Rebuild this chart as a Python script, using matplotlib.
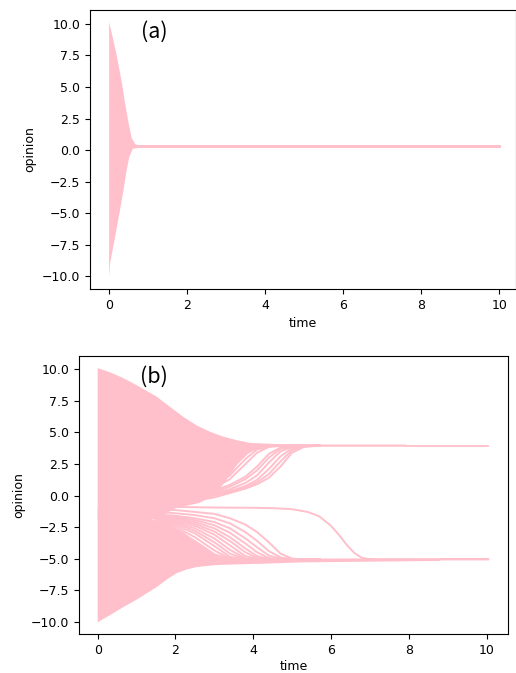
import numpy as np
import matplotlib.pyplot as plt

PINK = 'pink'

# ---- panel (a): consensus ----
a_top_t = [0, 0.07, 0.2, 0.33, 0.41, 0.5, 0.58, 0.67, 0.75]
a_top = [10.15, 9.26, 7.41, 5.29, 3.7, 2.12, 0.93, 0.48, 0.34]
a_bot_t = [0, 0.026, 0.154, 0.28, 0.37, 0.45, 0.52, 0.61, 0.7]
a_bot = [-10.05, -8.99, -6.88, -4.76, -3.17, -1.59, -0.53, 0.1, 0.13]
a_band_t = [0.7, 10.04]
a_band_top = [0.36, 0.36]
a_band_bot = [0.12, 0.12]

# ---- panel (b): two clusters ----
# upper group outline
ub_top_t = [0, 0.33, 0.66, 1.0, 1.52, 1.85, 2.2, 2.55, 2.89, 3.2, 3.57, 3.92, 4.3, 4.6, 5.2, 7.94]
ub_top = [10.1, 9.75, 9.3, 8.75, 7.83, 7.05, 6.24, 5.55, 5.05, 4.7, 4.39, 4.17, 4.12, 4.08, 4.04, 4.04]
ub_bot_t = [0, 1.5, 2.0, 2.6, 3.0, 3.3, 3.6, 3.9, 4.2, 4.5, 5.2, 7.94]
ub_bot = [-1.9, -1.9, -1.0, -0.6, 0.0, 1.2, 2.5, 3.4, 3.8, 3.87, 3.87, 3.87]
# lower group outline
lb_bot_t = [0, 0.33, 0.66, 1.0, 1.52, 1.8, 2.03, 2.3, 2.54, 3.0, 3.4, 3.92, 4.5, 5.2, 8.8]
lb_bot = [-10.05, -9.45, -8.84, -8.25, -7.25, -6.6, -6.15, -5.85, -5.67, -5.52, -5.47, -5.43,
          -5.38, -5.3, -5.18]
lb_top_t = [0, 1.3, 1.8, 2.2, 2.5, 2.8, 3.1, 3.5, 4.0, 8.8]
lb_top = [-1.0, -1.8, -2.3, -2.9, -3.6, -4.3, -4.8, -5.0, -5.0, -4.97]
# cluster tails
up_tail_t = [7.94, 10.04]
up_tail = [3.93, 3.93]
lo_tail_t = [8.8, 10.04]
lo_tail = [-5.06, -5.06]

# strands between the groups
T = [1.5, 2.0, 2.5, 3.0, 3.4, 3.8, 4.1, 4.4, 4.7, 5.0, 5.3, 5.7]
up_strands = [
    [-0.1, 0.1, 0.5, 1.2, 2.3, 3.5, 3.88, 3.94, 3.95, 3.95, 3.95, 3.95],
    [-0.2, 0.0, 0.4, 1.0, 2.0, 3.3, 3.8, 3.93, 3.95, 3.95, 3.95, 3.95],
    [-0.3, -0.1, 0.3, 0.8, 1.6, 2.9, 3.65, 3.9, 3.94, 3.95, 3.95, 3.95],
    [-0.35, -0.15, 0.2, 0.6, 1.3, 2.5, 3.4, 3.85, 3.94, 3.95, 3.95, 3.95],
    [-0.4, -0.25, 0.05, 0.4, 0.85, 1.5, 2.3, 3.3, 3.8, 3.93, 3.95, 3.95],
    [-0.45, -0.3, 0.0, 0.3, 0.7, 1.3, 2.0, 3.0, 3.7, 3.9, 3.95, 3.95],
    [-0.5, -0.35, -0.1, 0.2, 0.5, 1.0, 1.6, 2.6, 3.5, 3.85, 3.94, 3.95],
    [-0.55, -0.45, -0.2, 0.1, 0.35, 0.75, 1.25, 2.1, 3.1, 3.75, 3.92, 3.95],
    [-0.6, -0.5, -0.3, 0.0, 0.25, 0.65, 1.05, 1.7, 2.7, 3.6, 3.9, 3.95],
    [-0.7, -0.6, -0.4, -0.15, 0.2, 0.55, 0.9, 1.4, 2.3, 3.4, 3.85, 3.95],
]
lo_strands = [
    [-1.1, -1.15, -1.3, -1.45, -1.8, -2.3, -2.9, -3.7, -4.6, -5.0, -5.05, -5.05],
    [-1.3, -1.4, -1.55, -1.8, -2.2, -2.9, -3.6, -4.4, -4.9, -5.05, -5.05, -5.05],
    [-1.5, -1.6, -1.8, -2.1, -2.6, -3.4, -4.1, -4.75, -5.0, -5.05, -5.05, -5.05],
    [-1.6, -1.7, -1.95, -2.35, -2.95, -3.8, -4.5, -4.95, -5.05, -5.05, -5.05, -5.05],
    [-1.65, -1.8, -2.1, -2.6, -3.3, -4.2, -4.8, -5.02, -5.05, -5.05, -5.05, -5.05],
    [-1.7, -1.9, -2.25, -2.85, -3.6, -4.5, -4.95, -5.05, -5.05, -5.05, -5.05, -5.05],
    [-1.75, -2.0, -2.4, -3.1, -3.95, -4.8, -5.02, -5.05, -5.05, -5.05, -5.05, -5.05],
    [-1.8, -2.1, -2.6, -3.4, -4.3, -4.97, -5.05, -5.05, -5.05, -5.05, -5.05, -5.05],
    [-1.85, -2.2, -2.8, -3.7, -4.6, -5.03, -5.05, -5.05, -5.05, -5.05, -5.05, -5.05],
    [-1.9, -2.35, -3.0, -4.0, -4.85, -5.05, -5.05, -5.05, -5.05, -5.05, -5.05, -5.05],
    [-2.0, -2.5, -3.3, -4.35, -4.98, -5.05, -5.05, -5.05, -5.05, -5.05, -5.05, -5.05],
    [-2.1, -2.7, -3.6, -4.65, -5.03, -5.05, -5.05, -5.05, -5.05, -5.05, -5.05, -5.05],
]
# the one late opinion that sits near -1 and then drops
late_t = [1.5, 2.0, 3.0, 4.0, 4.5, 5.0, 5.4, 5.7, 6.0, 6.2, 6.4, 6.6, 6.8, 7.0, 7.3, 10.04]
late_v = [-0.8, -0.9, -0.95, -0.97, -1.0, -1.08, -1.3, -1.65, -2.4, -3.1, -3.9, -4.55,
          -4.95, -5.03, -5.06, -5.06]

xticks = [0, 2, 4, 6, 8, 10]
yticks = [-10.0, -7.5, -5.0, -2.5, 0.0, 2.5, 5.0, 7.5, 10.0]

W, H = 516, 673
fig = plt.figure(figsize=(W / 100, H / 100), dpi=100)

def px_axes(left, top, right, bottom):
    return fig.add_axes([left / W, 1 - bottom / H, (right - left) / W, (bottom - top) / H])

def outline(ax, t_hi, v_hi, t_lo, v_lo):
    xs = list(t_hi) + list(t_lo)[::-1]
    ys = list(v_hi) + list(v_lo)[::-1]
    ax.fill(xs, ys, color=PINK, lw=0)

ax1 = px_axes(90, 10, 515.5, 289)
ax2 = px_axes(79, 355.7, 508, 634)

# panel (a)
outline(ax1, a_top_t, a_top, a_bot_t, a_bot)
outline(ax1, a_band_t, a_band_top, a_band_t, a_band_bot)
ax1.set_xlim(-0.49, 10.42)
ax1.set_ylim(-11.03, 11.11)

# panel (b)
outline(ax2, ub_top_t, ub_top, ub_bot_t, ub_bot)
outline(ax2, lb_top_t, lb_top, lb_bot_t, lb_bot)
for s in up_strands:
    ax2.plot(T, s, color=PINK, lw=1.4)
for s in lo_strands:
    ax2.plot(T, s, color=PINK, lw=1.4)
ax2.plot(late_t, late_v, color=PINK, lw=1.4)
ax2.plot(up_tail_t, up_tail, color=PINK, lw=1.3)
ax2.plot(lo_tail_t, lo_tail, color=PINK, lw=1.5)
ax2.set_xlim(-0.48, 10.55)
ax2.set_ylim(-10.97, 11.08)

for ax in (ax1, ax2):
    ax.set_xticks(xticks)
    ax.set_yticks(yticks)
    ax.tick_params(labelsize=9)
    ax.set_ylabel('opinion', fontsize=9)
ax1.set_xlabel('time', fontsize=9)
ax2.set_xlabel('time', fontsize=9, labelpad=2)

fig.text(154 / W, 1 - 32 / H, '(a)', ha='center', va='center', fontsize=15.5,
         family=['Noto Sans CJK JP', 'DejaVu Sans'])
fig.text(154 / W, 1 - 377 / H, '(b)', ha='center', va='center', fontsize=15.5,
         family=['Noto Sans CJK JP', 'DejaVu Sans'])

fig.savefig('out.png', dpi=100)
